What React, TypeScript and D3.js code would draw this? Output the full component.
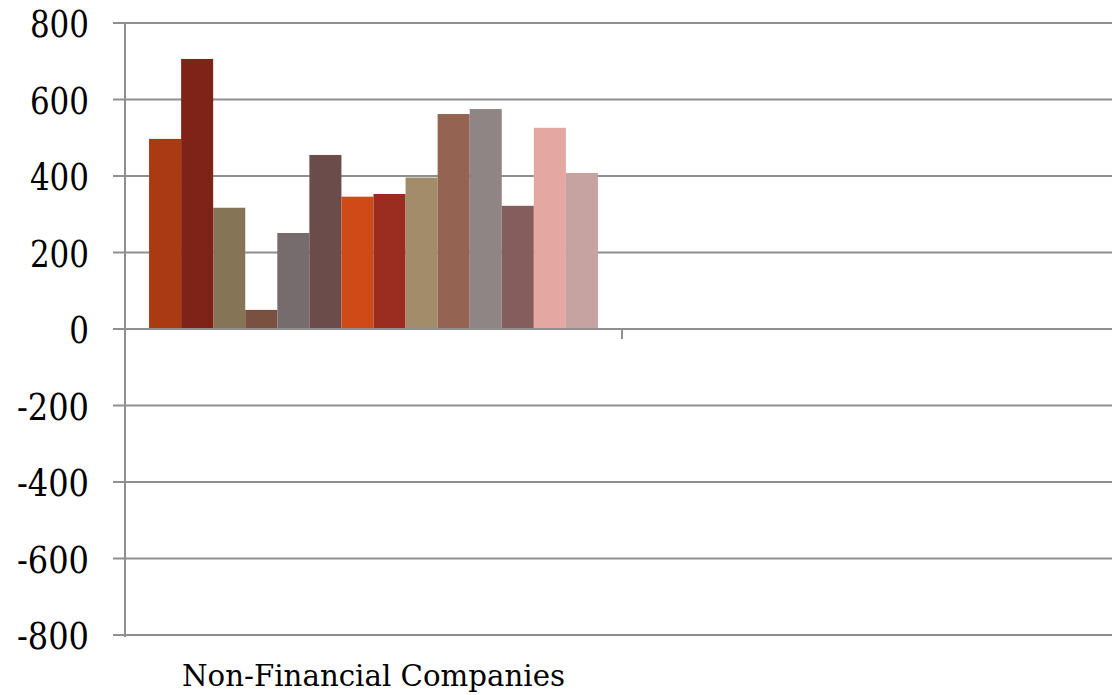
import React from "react";
import * as d3 from "d3";

const categories = ["Non-Financial Companies", ""];
const seriesNames = [
  "S1", "S2", "S3", "S4", "S5", "S6", "S7",
  "S8", "S9", "S10", "S11", "S12", "S13", "S14",
];
const nonFinancialValues = [497, 706, 317, 50, 251, 455, 346, 353, 396, 562, 575, 322, 526, 408];
const yTicks = [-800, -600, -400, -200, 0, 200, 400, 600, 800];

const palette = [
  "#AA3A12", "#7F2319", "#857556", "#7A5040", "#766B6D", "#6C4C4B", "#D04A18",
  "#9A2C20", "#A38C6A", "#956351", "#8F8585", "#855D5D", "#E5A7A1", "#C6A2A1",
];

const W = 1112;
const H = 695;
const left = 125;
const right = 1119;
const top = 23;
const bottom = 635;
const gridColor = "#8f8f8f";
const font = "DejaVu Serif";

function tickLabelWidth(s: string) {
  let w = 0;
  for (const ch of s) w += ch === "-" ? 13 : 19.7;
  return w;
}

export default function App() {
  const x0 = d3.scaleBand<string>().domain(categories).range([left, right]).paddingInner(0).paddingOuter(0);
  const x1 = d3
    .scaleBand<string>()
    .domain(seriesNames)
    .range([0, x0.bandwidth()])
    .paddingInner(0)
    .paddingOuter(0.75);
  const y = d3.scaleLinear().domain([-800, 800]).range([bottom, top]);

  const cat = categories[0];
  const cx = x0(cat)!;

  return (
    <svg
      width={W}
      height={H}
      style={{ position: "absolute", left: 0, top: 0, background: "#fff" }}
    >
      {yTicks.map((t) => (
        <line
          key={t}
          x1={113}
          x2={W}
          y1={y(t)}
          y2={y(t)}
          stroke={gridColor}
          strokeWidth={2}
        />
      ))}
      <line x1={left} x2={left} y1={top - 1} y2={bottom + 2} stroke={gridColor} strokeWidth={2} />
      {nonFinancialValues.map((v, i) => (
        <rect
          key={seriesNames[i]}
          x={cx + x1(seriesNames[i])!}
          y={y(Math.max(0, v))}
          width={x1.bandwidth()}
          height={Math.abs(y(v) - y(0))}
          fill={palette[i]}
        />
      ))}
      <line x1={left} x2={W} y1={y(0)} y2={y(0)} stroke={gridColor} strokeWidth={2} />
      {categories.slice(1).map((c) => (
        <line
          key={"tick" + c}
          x1={x0(c)!}
          x2={x0(c)!}
          y1={y(0)}
          y2={y(0) + 10}
          stroke={gridColor}
          strokeWidth={2}
        />
      ))}
      {yTicks.map((t) => {
        const s = String(t);
        const w = tickLabelWidth(s);
        return (
          <text
            key={"l" + t}
            x={89 - w}
            y={y(t) + 14}
            fontFamily={font}
            fontSize={37}
            textLength={w}
            lengthAdjust="spacingAndGlyphs"
            fill="#000"
          >
            {s}
          </text>
        );
      })}
      {categories.map((c) =>
        c ? (
          <text
            key={"c" + c}
            x={x0(c)! + x0.bandwidth() / 2 - 191.5}
            y={686}
            fontFamily={font}
            fontSize={29}
            textLength={383}
            lengthAdjust="spacingAndGlyphs"
            fill="#000"
          >
            {c}
          </text>
        ) : null
      )}
    </svg>
  );
}
